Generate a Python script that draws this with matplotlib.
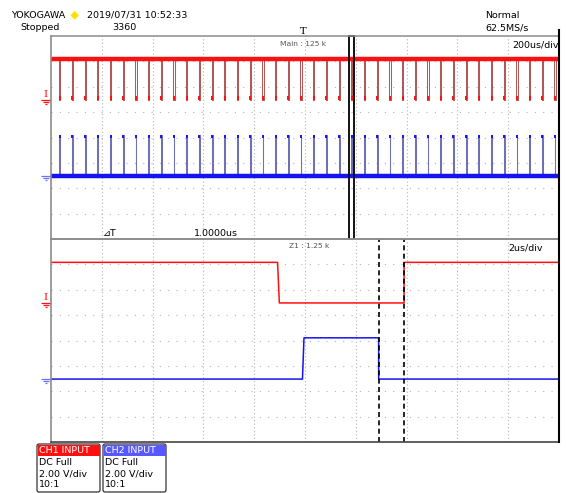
import numpy as np
import matplotlib
matplotlib.use("Agg")
import matplotlib.pyplot as plt
from matplotlib.path import Path
from matplotlib.patches import Rectangle, FancyBboxPatch, Polygon
import matplotlib.transforms as mtransforms

# ---------------- data ----------------
n_div_x = 10
n_div_y = 8
main_us_per_div = 200
zoom_us_per_div = 2
volts_per_div = 2.0
ch1_position_div = 5.48
ch2_position_div = 2.48
ch1_high_V = 3.2
ch1_low_V = 0.0
ch2_high_V = 3.25
ch2_low_V = 0.0

# main window: CH1 falling-edge times (us from left edge of the screen)
ch1_fall_us = [32, 82, 132, 182, 232, 282, 332, 382, 432, 482,
               532, 582, 632, 682, 732, 782, 832, 882, 932, 982,
               1032, 1082, 1132, 1182, 1232, 1282, 1332, 1382, 1432, 1482,
               1532, 1582, 1632, 1682, 1732, 1782, 1832, 1882, 1932, 1982]
ch1_low_width_us = 4.95
ch2_rise_delay_us = 0.98
ch2_high_width_us = 2.97

# zoom window (Z1)
zoom_start_us = 1173
zoom_width_us = 20
zoom_ch1_t = [0, 8.92, 8.99, 13.90, 13.90, 20]
zoom_ch1_v = [3.2, 3.2, 0.0, 0.0, 3.2, 3.2]
zoom_ch2_t = [0, 9.90, 9.96, 12.90, 12.90, 20]
zoom_ch2_v = [0.0, 0.0, 3.25, 3.25, 0.0, 0.0]
cursor_us = [12.90, 13.90]

header_left = ["YOKOGAWA", "2019/07/31 10:52:33", "Stopped", "3360"]
header_right = ["Normal", "62.5MS/s"]
main_label = "Main : 125 k"
zoom_label = "Z1 : 1.25 k"
main_scale = "200us/div"
zoom_scale = "2us/div"
delta_t_text = "1.0000us"
ch_names = ["CH1 INPUT", "CH2 INPUT"]
ch_lines = [["DC Full", "2.00 V/div", "10:1"], ["DC Full", "2.00 V/div", "10:1"]]

RED = "#ff1010"
BLUE = "#1414f0"
RED_PULSE = "#b05a5a"
BLUE_PULSE = "#7070b8"
GRID = "#b4b4b4"

# ---------------- figure ----------------
W, H = 566, 493
fig = plt.figure(figsize=(W / 100, H / 100), dpi=100)
fig.patch.set_facecolor("white")
plt.rcParams["font.family"] = ["DejaVu Sans", "Noto Sans CJK JP"]

def fx(x):
    return x / W

def fy(y):
    return 1 - y / H

left_px, right_px = 51, 559
top_px, mid_px, bot_px = 36, 239, 442
ax_up = fig.add_axes([fx(left_px), fy(mid_px), (right_px - left_px) / W, (mid_px - top_px) / H])
ax_lo = fig.add_axes([fx(left_px), fy(bot_px), (right_px - left_px) / W, (bot_px - mid_px) / H])

def to_div(v, pos):
    return pos + np.asarray(v, dtype=float) / volts_per_div

for ax, span in ((ax_up, main_us_per_div), (ax_lo, zoom_us_per_div)):
    ax.set_xlim(0, span * n_div_x)
    ax.set_ylim(0, n_div_y)
    ax.set_xticks([span * k for k in range(1, n_div_x)])
    ax.set_yticks(list(range(1, n_div_y)))
    ax.tick_params(length=0, labelbottom=False, labelleft=False)
    ax.xaxis.grid(True, color=GRID, linestyle=(0, (1, 2.2)), linewidth=0.8)
    ax.yaxis.grid(True, color=GRID, linestyle=(0, (1, 6.5)), linewidth=0.8)
    ax.set_axisbelow(True)
    for s in ax.spines.values():
        s.set_visible(False)
    ax.patch.set_alpha(0)

# ---------------- main window traces ----------------
t_end = main_us_per_div * n_div_x
r_hi = to_div(ch1_high_V, ch1_position_div)
r_lo = to_div(ch1_low_V, ch1_position_div)
b_hi = to_div(ch2_high_V, ch2_position_div)
b_lo = to_div(ch2_low_V, ch2_position_div)

def pulse_wave(starts, width, base, peak):
    t, v = [0.0], [base]
    for s in starts:
        t += [s, s, s + width, s + width]
        v += [base, peak, peak, base]
    t.append(t_end)
    v.append(base)
    return t, v

falls = np.array(ch1_fall_us, dtype=float)
rt, rv = pulse_wave(falls, ch1_low_width_us, r_hi, r_lo)
bt, bv = pulse_wave(falls + ch2_rise_delay_us, ch2_high_width_us, b_lo, b_hi)

ax_up.plot(rt, rv, color=RED_PULSE, lw=0.75, zorder=3)
ax_up.plot([0, t_end], [r_hi, r_hi], color=RED, lw=3.2, zorder=4, solid_capstyle="butt")
ax_up.vlines(falls + ch1_low_width_us / 2, r_lo, r_lo + 0.14, color=RED, lw=1.4, zorder=4)

ax_up.plot(bt, bv, color=BLUE_PULSE, lw=0.75, zorder=3)
ax_up.plot([0, t_end], [b_lo, b_lo], color=BLUE, lw=3.2, zorder=4, solid_capstyle="butt")
ax_up.vlines(falls + ch2_rise_delay_us + ch2_high_width_us / 2, b_hi - 0.14, b_hi,
             color=BLUE, lw=1.4, zorder=4)

# zoom window box
ax_up.add_patch(Rectangle((zoom_start_us, 0), zoom_width_us, n_div_y, fill=False,
                          edgecolor="black", lw=1.3, zorder=6, clip_on=False))

# ---------------- zoom window traces ----------------
ax_lo.plot(zoom_ch1_t, to_div(zoom_ch1_v, ch1_position_div), color=RED, lw=1.1, zorder=3)
ax_lo.plot(zoom_ch2_t, to_div(zoom_ch2_v, ch2_position_div), color=BLUE, lw=1.1, zorder=3)
for c in cursor_us:
    ax_lo.axvline(c, color="black", lw=1.2, linestyle=(0, (3, 2)), zorder=5)

# ---------------- ground markers ----------------
gnd_path = Path([(-1, 0), (1, 0), (-0.62, -0.45), (0.62, -0.45), (-0.28, -0.9), (0.28, -0.9)],
                [Path.MOVETO, Path.LINETO, Path.MOVETO, Path.LINETO, Path.MOVETO, Path.LINETO])
mx = -0.0098
for ax in (ax_up, ax_lo):
    tr = mtransforms.blended_transform_factory(ax.transAxes, ax.transData)
    ax.plot([mx], [ch1_position_div], marker=gnd_path, markersize=7, markeredgewidth=0.9,
            color=RED, transform=tr, clip_on=False, linestyle="none")
    ax.text(mx, ch1_position_div + 0.05, "I", color=RED, fontsize=7.5, family="DejaVu Serif",
            ha="center", va="bottom", transform=tr, clip_on=False)
    ax.plot([mx], [ch2_position_div], marker=gnd_path, markersize=7, markeredgewidth=0.9,
            color="#7070ff", transform=tr, clip_on=False, linestyle="none")

# ---------------- overlay (pixel coordinates) ----------------
ov = fig.add_axes([0, 0, 1, 1], zorder=10)
ov.set_xlim(0, W)
ov.set_ylim(H, 0)
ov.axis("off")
ov.patch.set_alpha(0)

# screen borders
ov.plot([left_px, right_px], [top_px, top_px], color="#8c8c8c", lw=1.1)
ov.plot([left_px, left_px], [top_px, bot_px], color="#8c8c8c", lw=1.2)
ov.plot([left_px, right_px], [mid_px, mid_px], color="#8c8c8c", lw=1.4)
ov.plot([left_px, right_px], [bot_px, bot_px], color="#444444", lw=1.2)
ov.plot([right_px, right_px], [30, bot_px], color="black", lw=1.5)

fs = 6.8
ov.text(10.8, 15.4, header_left[0], fontsize=fs, va="center", ha="left")
ov.add_patch(Polygon([[74.7, 11], [79, 15.4], [74.7, 19.8], [70.4, 15.4]], closed=True,
                     facecolor="#ffe000", edgecolor="none"))
ov.text(86.6, 15.4, header_left[1], fontsize=fs, va="center", ha="left")
ov.text(19.9, 28, header_left[2], fontsize=fs, va="center", ha="left")
ov.text(112.6, 28, header_left[3], fontsize=fs, va="center", ha="left")
ov.text(485.6, 15.4, header_right[0], fontsize=fs, va="center", ha="left")
ov.text(485.6, 28, header_right[1], fontsize=fs, va="center", ha="left")
ov.text(303, 31, "T", fontsize=7, va="center", ha="center", family="DejaVu Serif")

ov.text(303, 43.5, main_label, fontsize=5.4, color="#555555", va="center", ha="center")
ov.text(512, 45.5, main_scale, fontsize=fs, va="center", ha="left")
ov.text(102.5, 233, "\u22bfT", fontsize=fs, va="center", ha="left")
ov.text(194, 233, delta_t_text, fontsize=fs, va="center", ha="left")
ov.text(309, 246.5, zoom_label, fontsize=5.4, color="#555555", va="center", ha="center")
ov.text(508, 248, zoom_scale, fontsize=fs, va="center", ha="left")

# channel info boxes
box_x = [37, 103]
head_col = ["#ff1010", "#5858ff"]
for i in range(2):
    x0 = box_x[i]
    ov.add_patch(FancyBboxPatch((x0, 444), 63, 48, boxstyle="round,pad=0,rounding_size=2",
                                facecolor="white", edgecolor="#333333", lw=0.9))
    ov.add_patch(Rectangle((x0 + 0.5, 444.5), 62, 11.5, facecolor=head_col[i], edgecolor="none"))
    ov.text(x0 + 2, 450.3, ch_names[i], color="white", fontsize=fs, va="center", ha="left")
    for j, line in enumerate(ch_lines[i]):
        ov.text(x0 + 2, 462.5 + j * 11.2, line, fontsize=fs, va="center", ha="left")

fig.savefig("out.png", dpi=100, facecolor="white")
